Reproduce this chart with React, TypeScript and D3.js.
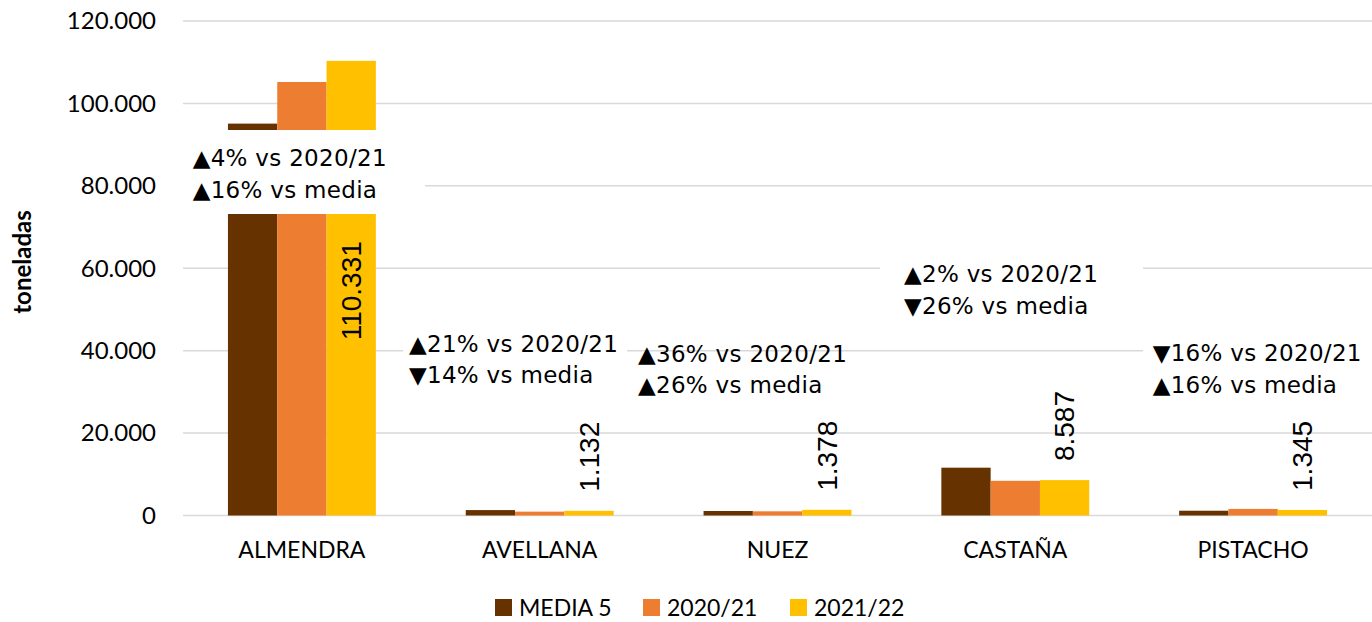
import React, { useEffect } from 'react';
import * as d3 from 'd3';

const categories = ['ALMENDRA', 'AVELLANA', 'NUEZ', 'CASTAÑA', 'PISTACHO'];
const seriesNames = ['MEDIA 5', '2020/21', '2021/22'];
const media5 = [95100, 1316, 1094, 11604, 1159];
const campaign2021 = [105200, 936, 1013, 8419, 1601];
const campaign2122 = [110331, 1132, 1378, 8587, 1345];
const yTicks = [0, 20000, 40000, 60000, 80000, 100000, 120000];
const noteLines = [
  ['▲4% vs 2020/21', '▲16% vs media'],
  ['▲21% vs 2020/21', '▼14% vs media'],
  ['▲36% vs 2020/21', '▲26% vs media'],
  ['▲2% vs 2020/21', '▼26% vs media'],
  ['▼16% vs 2020/21', '▲16% vs media'],
];

const colors = ['#663300', '#ED7D31', '#FFC000'];

const W = 1372;
const H = 622;
const plot = { left: 183, right: 1372, top: 21, bottom: 515.5 };

// where each text box was dragged to in the original chart
const noteBoxes = [
  { x: 192.7, y: 166, box: [183, 130, 242, 84] },
  { x: 409, y: 351.7, box: [403, 329, 224, 64] },
  { x: 638, y: 361.7, box: null },
  { x: 904, y: 282, box: [880, 250, 263, 75] },
  { x: 1152.7, y: 361, box: [1143, 334, 229, 68] },
];

const es = d3.formatLocale({ decimal: ',', thousands: '.', grouping: [3], currency: ['', '€'] });
const fmt = es.format(',d');

const axisFont = 'Lato, "Open Sans", sans-serif';
const noteFont = '"DejaVu Sans", sans-serif';
const labelFont = '"Liberation Sans", Arial, sans-serif';

export default function App() {
  useEffect(() => {
    document.body.style.margin = '0';
  }, []);

  const values = [media5, campaign2021, campaign2122];

  const x0 = d3.scaleBand()
    .domain(categories)
    .range([plot.left, plot.right])
    .paddingInner(0.378)
    .paddingOuter(0.189);

  const x1 = d3.scaleBand()
    .domain(seriesNames)
    .range([0, x0.bandwidth()]);

  const y = d3.scaleLinear()
    .domain([0, 120000])
    .range([plot.bottom, plot.top]);

  const labelY = (v, i) => {
    // the almendra label sits inside its bar, under the text box
    if (i === 0) return y(42500);
    return y(v) - 19;
  };

  return (
    <svg width={W} height={H} style={{ display: 'block', background: '#fff' }}>
      {yTicks.map((t) => (
        <g key={t}>
          <line x1={plot.left} x2={plot.right} y1={y(t)} y2={y(t)} stroke="#d9d9d9" strokeWidth={1.5} />
          <text x={156} y={y(t)} dy="0.35em" textAnchor="end" fontFamily={axisFont} fontSize={24} fill="#000">
            {fmt(t)}
          </text>
        </g>
      ))}

      <text
        transform="translate(31,262) rotate(-90)"
        textAnchor="middle"
        fontFamily={axisFont}
        fontWeight="bold"
        fontSize={24}
        fill="#000"
      >
        toneladas
      </text>

      {categories.map((c, i) => (
        <g key={c} transform={`translate(${x0(c)},0)`}>
          {seriesNames.map((s, j) => (
            <rect
              key={s}
              x={x1(s)}
              y={y(values[j][i])}
              width={x1.bandwidth()}
              height={plot.bottom - y(values[j][i])}
              fill={colors[j]}
            />
          ))}
          <text
            transform={`translate(${x1('2021/22') + x1.bandwidth() / 2},${labelY(campaign2122[i], i)}) rotate(-90)`}
            dy="0.35em"
            textAnchor="start"
            fontFamily={labelFont}
            fontSize={28}
            fill="#000"
          >
            {fmt(campaign2122[i])}
          </text>
        </g>
      ))}

      {categories.map((c) => (
        <text key={c} x={x0(c) + x0.bandwidth() / 2} y={558} textAnchor="middle" fontFamily={axisFont} fontSize={23} fill="#000">
          {c}
        </text>
      ))}

      {noteBoxes.map((n, i) => (
        <g key={i}>
          {n.box && <rect x={n.box[0]} y={n.box[1]} width={n.box[2]} height={n.box[3]} fill="#fff" />}
          {noteLines[i].map((line, k) => (
            <text
              key={k}
              x={n.x}
              y={n.y + k * 31.5}
              fontFamily={noteFont}
              fontSize={23}
              letterSpacing={0.3}
              fill="#000"
            >
              {line}
            </text>
          ))}
        </g>
      ))}

      {seriesNames.map((s, j) => {
        const lx = [495, 643, 790][j];
        return (
          <g key={s}>
            <rect x={lx} y={599} width={17} height={17} fill={colors[j]} />
            <text x={lx + 24} y={616} fontFamily={axisFont} fontSize={23} fill="#000">
              {s}
            </text>
          </g>
        );
      })}
    </svg>
  );
}
